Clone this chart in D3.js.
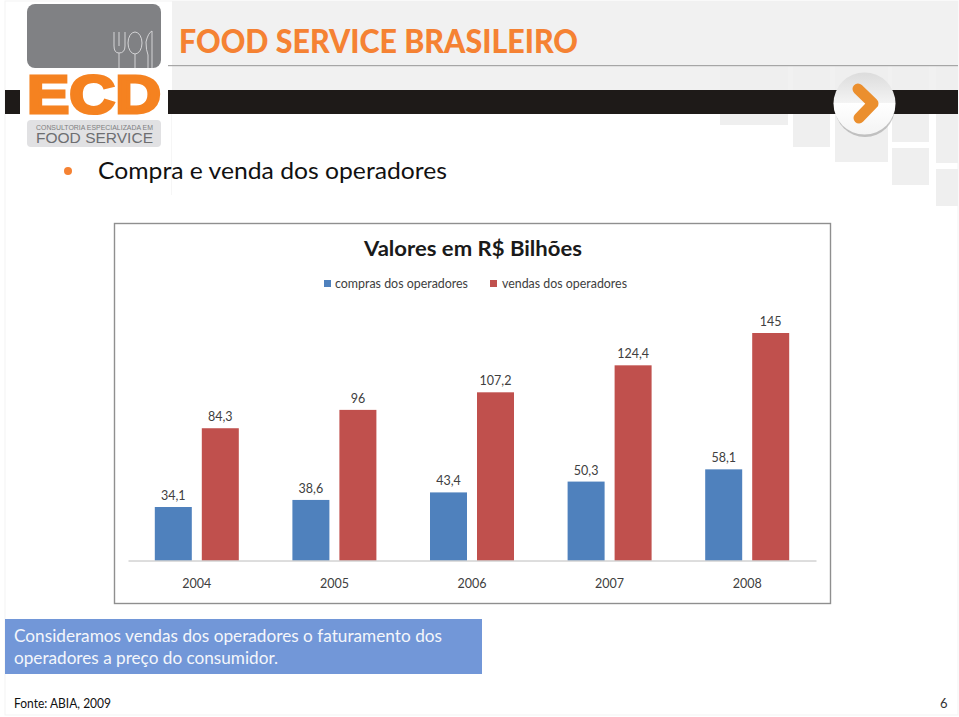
<!DOCTYPE html>
<html><head><meta charset="utf-8">
<script src="https://cdn.jsdelivr.net/npm/d3@7/dist/d3.min.js"></script>
<style>html,body{margin:0;padding:0;background:#fff;overflow:hidden}svg{display:block}text{font-family:Lato,"Open Sans",sans-serif}</style>
</head><body><svg id="c" width="959" height="717"></svg>
<script>
const years=["2004","2005","2006","2007","2008"];
const seriesNames=["compras dos operadores","vendas dos operadores"];
const compras=[34.1,38.6,43.4,50.3,58.1];
const vendas=[84.3,96,107.2,124.4,145];
const comprasLabels=["34,1","38,6","43,4","50,3","58,1"];
const vendasLabels=["84,3","96","107,2","124,4","145"];
const seriesColors=["#4f81bd","#c0504d"];
const bgSquares=[[720,66,68,59],[793,66,37,81],[835,66,53,96],[892,66,37,76],[892,148,37,37],[936,66,22,97],[936,169,22,37]];

const svg=d3.select("#c");
const T=(x,y,s,size,fill,opt={})=>{const t=svg.append("text").attr("x",x).attr("y",y).attr("font-size",size).attr("fill",fill).text(s);
 if(opt.w)t.attr("textLength",opt.w).attr("lengthAdjust","spacingAndGlyphs");
 if(opt.b)t.attr("font-weight",opt.b);if(opt.a)t.attr("text-anchor",opt.a);return t;};

// page background
svg.append("rect").attr("x",5).attr("y",1).attr("width",953).attr("height",714).attr("fill","#fff").attr("stroke","#f3f3f3");
svg.append("rect").attr("x",172).attr("y",1).attr("width",786).attr("height",89).attr("fill","#f1f1f1");
svg.append("line").attr("x1",171.5).attr("x2",171.5).attr("y1",114).attr("y2",195).attr("stroke","#f6f6f6");
svg.selectAll("rect.sq").data(bgSquares).join("rect").attr("class","sq")
 .attr("x",d=>d[0]).attr("y",d=>d[1]).attr("width",d=>d[2]).attr("height",d=>d[3]).attr("fill","#efefef");
svg.append("rect").attr("x",168).attr("y",65).attr("width",790).attr("height",1.2).attr("fill","#a6a6a6");
svg.append("rect").attr("x",5).attr("y",90).attr("width",953).attr("height",24).attr("fill","#1e1a18");
svg.append("rect").attr("x",20).attr("y",68).attr("width",148).attr("height",52).attr("fill","#fff");

// logo
svg.append("rect").attr("x",27).attr("y",4).attr("width",134).attr("height",64).attr("rx",8).attr("fill","#808184");
const cut=svg.append("g").attr("fill","none").attr("stroke","#d4d4d6").attr("stroke-width",1);
cut.append("path").attr("d","M114 32V46Q114 53 119 53Q125 53 125 46V32M119 32V46M119 53V68");
cut.append("ellipse").attr("cx",135).attr("cy",43).attr("rx",7).attr("ry",11);
cut.append("path").attr("d","M135 54V68M148 68V55Q146 50 146 42Q148 33 152 31V68");
T(27,113,"ECD",54,"#f58220",{b:700,w:134}).style("font-family","Liberation Sans").attr("stroke","#f58220").attr("stroke-width",3);
svg.append("rect").attr("x",27).attr("y",120).attr("width",134).attr("height",27).attr("rx",4).attr("fill","#e1e1e3");
T(36,129.5,"CONSULTORIA ESPECIALIZADA EM",7,"#7d7e81",{w:117}).style("font-family","Liberation Sans");
T(36,143,"FOOD SERVICE",15,"#6d6e71",{w:117}).style("font-family","Liberation Sans");

// header
T(179,53,"FOOD SERVICE BRASILEIRO",31.5,"#f58233",{b:900,w:399});
const badge=svg.append("defs").append("linearGradient").attr("id","bd").attr("x1",0).attr("x2",0).attr("y1",0).attr("y2",1);
badge.append("stop").attr("offset","0").attr("stop-color","#dcdcdc");
badge.append("stop").attr("offset","0.5").attr("stop-color","#f4f4f4");
badge.append("stop").attr("offset","0.5").attr("stop-color","#ffffff");
badge.append("stop").attr("offset","1").attr("stop-color","#f4f4f4");
svg.append("ellipse").attr("cx",865).attr("cy",107).attr("rx",30).attr("ry",30).attr("fill","#999").attr("opacity",.55);
svg.append("circle").attr("cx",864.5).attr("cy",103.5).attr("r",31).attr("fill","url(#bd)");
svg.append("path").attr("d","M858 89L873 103.5L859 118").attr("fill","none").attr("stroke","#eb8f2e").attr("stroke-width",11).attr("stroke-linecap","round").attr("stroke-linejoin","round");

svg.append("circle").attr("cx",68).attr("cy",171).attr("r",4).attr("fill","#f58233");
T(98,179,"Compra e venda dos operadores",23.5,"#111",{w:349});

// chart frame
svg.append("rect").attr("x",114.5).attr("y",223.5).attr("width",716).attr("height",380).attr("fill","#fff").attr("stroke","#8f8f8f").attr("stroke-width",1.4);
T(364,256,"Valores em R$ Bilhões",21,"#1a1a1a",{b:700,w:218});

// legend
const legendX=[324,490],legendTextX=[335,502],legendW=[133,125];
seriesNames.forEach((n,i)=>{
 svg.append("rect").attr("x",legendX[i]).attr("y",280).attr("width",7).attr("height",7).attr("fill",seriesColors[i]);
 T(legendTextX[i],288,n,12.5,"#404040",{w:legendW[i]});
});

// scales and bars
const x=d3.scaleBand().domain(years).range([128,816]);
const x1=d3.scaleBand().domain(seriesNames).range([-42,42]).paddingInner(10/47).paddingOuter(0);
const y=d3.scaleLinear().domain([0,145]).range([560.5,333]);
const rows=[compras,vendas];
const labels=[comprasLabels,vendasLabels];
rows.forEach((vals,s)=>{
 const g=svg.append("g");
 g.selectAll("rect").data(vals).join("rect")
  .attr("x",(d,i)=>x(years[i])+x.bandwidth()/2+x1(seriesNames[s]))
  .attr("y",d=>y(d)).attr("width",x1.bandwidth()).attr("height",d=>y(0)-y(d)).attr("fill",seriesColors[s]);
 g.selectAll("text").data(vals).join("text")
  .attr("x",(d,i)=>x(years[i])+x.bandwidth()/2+x1(seriesNames[s])+x1.bandwidth()/2)
  .attr("y",d=>y(d)-7).attr("text-anchor","middle").attr("font-size",12.5).attr("fill","#404040")
  .text((d,i)=>labels[s][i]);
});
const ax=svg.append("g").attr("transform","translate(0,560.5)").call(d3.axisBottom(x).tickSize(0).tickPadding(16));
ax.select(".domain").attr("stroke","#bcbcbc");
ax.selectAll("text").attr("font-size",12.5).attr("fill","#404040").attr("dy","0.9em").style("font-family","Lato");

// note
svg.append("rect").attr("x",5).attr("y",619).attr("width",477).attr("height",55).attr("fill","#7297d8");
T(14,642,"Consideramos vendas dos operadores o faturamento dos",18,"#f4f6fb",{w:428});
T(14,664,"operadores a preço do consumidor.",18,"#f4f6fb",{w:264});

// footer
T(14,708,"Fonte: ABIA, 2009",13,"#111",{w:97});
T(940,708,"6",13,"#333");
</script></body></html>
